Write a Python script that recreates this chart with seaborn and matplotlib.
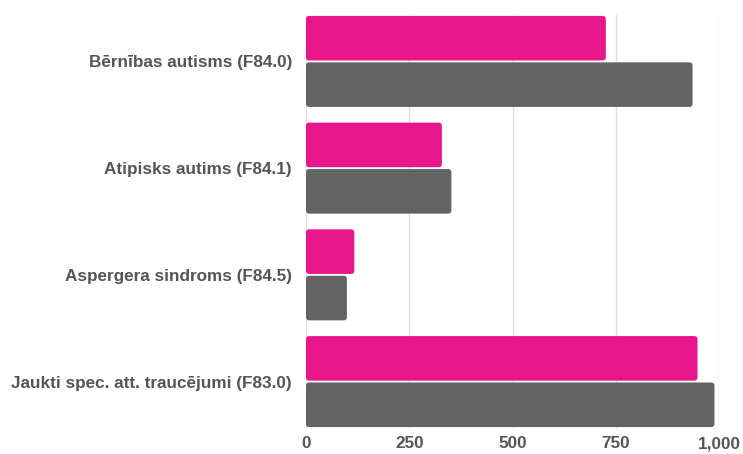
import pandas as pd
import matplotlib
matplotlib.use("Agg")
import matplotlib.pyplot as plt
from matplotlib.patches import FancyBboxPatch
import seaborn as sns

# Chart data
categories = [
    "Bērnības autisms (F84.0)",
    "Atipisks autims (F84.1)",
    "Aspergera sindroms (F84.5)",
    "Jaukti spec. att. traucējumi (F83.0)",
]
series_names = ["Sērija 1", "Sērija 2"]
pink_values = [726, 329, 117, 948]
gray_values = [936, 352, 99, 989]
x_ticks = [0, 250, 500, 750, 1000]
x_tick_labels = ["0", "250", "500", "750", "1,000"]

df = pd.DataFrame({
    "category": categories * 2,
    "series": [series_names[0]] * 4 + [series_names[1]] * 4,
    "value": pink_values + gray_values,
})

sns.set_theme(style="white")
plt.rcParams["font.family"] = ["Liberation Sans", "DejaVu Sans"]

fig = plt.figure(figsize=(7.43, 4.54), dpi=100)
ax = fig.add_axes([306 / 743, 26 / 454, 413 / 743, 413 / 454])

sns.barplot(
    data=df, x="value", y="category", hue="series",
    palette=["#E8168B", "#636363"], saturation=1, width=0.87, gap=0.04,
    legend=False, ax=ax, zorder=3, linewidth=0,
)

# swap plain rectangles for slightly rounded ones
for p in list(ax.patches):
    x, y = p.get_xy()
    w, h = p.get_width(), p.get_height()
    rb = FancyBboxPatch((x, y), w, h,
                        boxstyle="round,pad=0,rounding_size=8",
                        mutation_aspect=0.0038,
                        facecolor=p.get_facecolor(), edgecolor="none", zorder=3)
    p.remove()
    ax.add_patch(rb)

ax.set_xlim(0, 1000)
ax.set_ylim(3 + 0.435, -0.435)
ax.set_xticks(x_ticks)
ax.set_xticklabels(x_tick_labels)
ax.xaxis.grid(True, color="#e0e0e0", linewidth=1, zorder=0)
ax.set_axisbelow(True)
ax.set_xlabel("")
ax.set_ylabel("")
for s in ax.spines.values():
    s.set_visible(False)
ax.tick_params(axis="y", length=0, pad=10, labelsize=12.3, labelcolor="#555555")
ax.tick_params(axis="x", length=0, pad=6, labelsize=12.3, labelcolor="#555555")
for lbl in ax.get_yticklabels() + ax.get_xticklabels():
    lbl.set_fontweight("bold")

fig.savefig("out.png", dpi=100)
